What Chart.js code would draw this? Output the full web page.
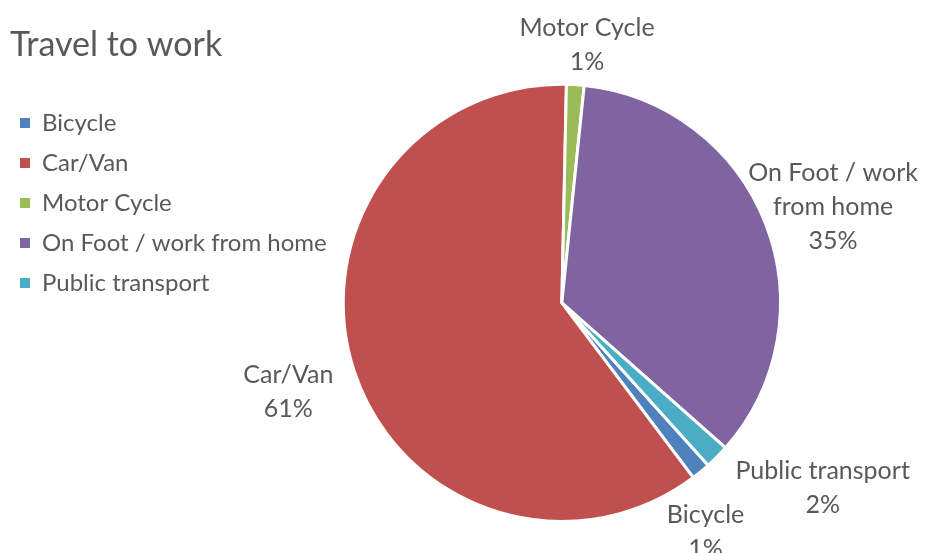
<!DOCTYPE html>
<html><head><meta charset="utf-8">
<script src="https://cdn.jsdelivr.net/npm/chart.js@4/dist/chart.umd.min.js"></script>
<style>html,body{margin:0;padding:0;background:#fff}canvas{display:block}</style>
</head><body>
<canvas id="c" width="933" height="553"></canvas>
<script>
// ---- data ----
const categories = ['Bicycle', 'Car/Van', 'Motor Cycle', 'On Foot / work from home', 'Public transport'];
const shares = [1.4, 60.6, 1.3, 34.9, 1.8];          // percent of travellers
const sliceLabelLines = [['Bicycle'], ['Car/Van'], ['Motor Cycle'], ['On Foot / work', 'from home'], ['Public transport']];
const sliceColors = ['#4F81BD', '#C0504D', '#9BBB59', '#8064A2', '#4BACC6'];
const chartTitle = 'Travel to work';

const FONT = 'Lato, "Open Sans", sans-serif';
const TEXT = '#595959';

const outsideLabels = {
  id: 'outsideLabels',
  afterDatasetsDraw(chart, args, opts) {
    const ctx = chart.ctx;
    const meta = chart.getDatasetMeta(0);
    ctx.save();
    ctx.font = opts.size + 'px ' + FONT;
    ctx.fillStyle = TEXT;
    ctx.textAlign = 'center';
    ctx.textBaseline = 'middle';
    meta.data.forEach((arc, i) => {
      const p = arc.getProps(['x', 'y', 'startAngle', 'endAngle', 'outerRadius'], true);
      const mid = (p.startAngle + p.endAngle) / 2;
      const lines = [...sliceLabelLines[i], Math.round(shares[i]) + '%'];
      const lh = opts.lineHeight;
      const w = Math.max(...lines.map(l => ctx.measureText(l).width));
      const h = lines.length * lh;
      const ax = p.x + Math.cos(mid) * (p.outerRadius + opts.gap);
      const ay = p.y + Math.sin(mid) * (p.outerRadius + opts.gap);
      const n = opts.nudge[i] || [0, 0];
      const cx = ax + Math.cos(mid) * w / 2 + n[0];
      const cy = ay + Math.sin(mid) * h / 2 + n[1];
      lines.forEach((l, k) => ctx.fillText(l, cx, cy - h / 2 + lh * (k + 0.5)));
    });
    ctx.restore();
  }
};

new Chart(document.getElementById('c'), {
  type: 'pie',
  data: {
    labels: categories,
    datasets: [{
      data: shares,
      backgroundColor: sliceColors,
      borderColor: '#ffffff',
      borderWidth: 3,
      hoverOffset: 0
    }]
  },
  options: {
    responsive: false,
    animation: false,
    rotation: 138,
    layout: { padding: { left: 10, right: 146, top: 0, bottom: 30 } },
    plugins: {
      tooltip: { enabled: false },
      title: {
        display: true, text: chartTitle, align: 'start', color: TEXT,
        font: { family: FONT, size: 34, weight: 'normal' },
        padding: { top: 25, bottom: 17 }
      },
      legend: {
        position: 'left', align: 'start', fullSize: false,
        title: { display: true, text: ' ', font: { size: 1 }, padding: { top: 0, bottom: 17 } },
        labels: {
          boxWidth: 10, boxHeight: 10, color: TEXT, padding: 10,
          font: { family: FONT, size: 24, lineHeight: 1.25 },
          generateLabels(chart) {
            const items = Chart.overrides.pie.plugins.legend.labels.generateLabels(chart);
            return items.map(it => Object.assign(it, { text: [it.text], lineWidth: 0, strokeStyle: 'rgba(0,0,0,0)' }));
          }
        }
      },
      outsideLabels: {
        size: 25, lineHeight: 34, gap: 8,
        nudge: { 0: [-25, 28], 1: [-15, 9], 2: [7, 2], 3: [-19, 5], 4: [38, 2] }
      }
    }
  },
  plugins: [outsideLabels]
});
</script>
</body></html>
